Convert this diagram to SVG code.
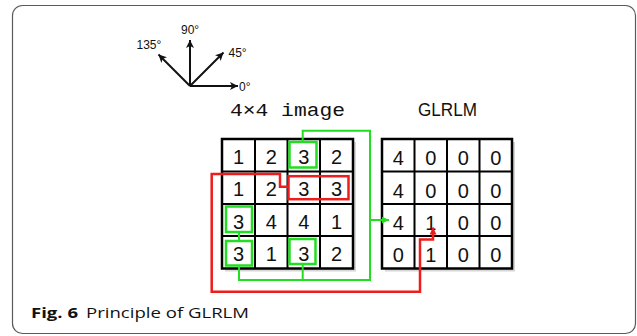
<svg xmlns="http://www.w3.org/2000/svg" width="637" height="336" viewBox="0 0 637 336">
<style>
.frame{fill:#fff;stroke:#5a5a5a;stroke-width:1.2}
.grid{fill:none;stroke:#000;stroke-width:2}
.outer{fill:#fff;stroke:#000;stroke-width:2.5}
.shadow{fill:#d6d6d6}
.num{font-family:"Liberation Sans",Arial,sans-serif;font-size:20px;fill:#111;text-anchor:middle}
.deg{font-family:"Liberation Sans",Arial,sans-serif;font-size:12px;fill:#111}
.title{font-family:"Liberation Mono","DejaVu Sans Mono",monospace;font-size:19px;fill:#111}
.title2{font-family:"Liberation Sans",Arial,sans-serif;font-size:18px;fill:#111}
.gbox{fill:none;stroke:#22dd22;stroke-width:2.5}
.rbox{fill:none;stroke:#ee1c1c;stroke-width:2.5}
.gline{fill:none;stroke:#22dd22;stroke-width:2}
.rline{fill:none;stroke:#ee1c1c;stroke-width:2.5}
.axis{stroke:#111;stroke-width:2;fill:none}
.cap{font-family:"Open Sans","Liberation Sans",sans-serif;font-size:14px;fill:#111}
</style>
<defs>
<marker id="ak" markerUnits="userSpaceOnUse" markerWidth="10" markerHeight="10" refX="8" refY="4" orient="auto">
<path d="M0,0 L8,4 L0,8 L2,4 Z" fill="#111"/>
</marker>
<marker id="ag" markerUnits="userSpaceOnUse" markerWidth="10" markerHeight="10" refX="7" refY="3.5" orient="auto">
<path d="M0,0 L7,3.5 L0,7 Z" fill="#22dd22"/>
</marker>
<marker id="ar" markerUnits="userSpaceOnUse" markerWidth="10" markerHeight="10" refX="7" refY="3.5" orient="auto">
<path d="M0,0 L7,3.5 L0,7 Z" fill="#ee1c1c"/>
</marker>
</defs>

<rect class="frame" x="12.5" y="5.5" width="623" height="328" rx="10"/>

<g id="compass">
<path class="axis" d="M190,86 H238" marker-end="url(#ak)"/>
<path class="axis" d="M190,86 V40" marker-end="url(#ak)"/>
<path class="axis" d="M190,86 L223.5,52.5" marker-end="url(#ak)"/>
<path class="axis" d="M190,86 L158.5,54.5" marker-end="url(#ak)"/>
<text class="deg" x="239" y="90.5">0°</text>
<text class="deg" x="181" y="34">90°</text>
<text class="deg" x="228.5" y="56.5">45°</text>
<text class="deg" x="136.5" y="48.5">135°</text>
</g>

<g id="label-image">
<text class="title" x="230" y="115.5" textLength="115" lengthAdjust="spacingAndGlyphs">4×4 image</text>
</g>
<g id="label-glrlm">
<text class="title2" x="418" y="115.5" textLength="59" lengthAdjust="spacingAndGlyphs">GLRLM</text>
</g>

<g id="image-grid">
<rect class="shadow" x="225" y="142" width="131" height="129.5"/>
<rect class="outer" x="222" y="139" width="131" height="129.5"/>
<path class="grid" d="M255,139 V268.5 M287.5,139 V268.5 M320,139 V268.5 M222,171.5 H353 M222,204 H353 M222,236 H353"/>
<text class="num" x="238.5" y="163.5">1</text><text class="num" x="271.2" y="163.5">2</text><text class="num" x="303.7" y="163.5">3</text><text class="num" x="336.5" y="163.5">2</text>
<text class="num" x="238.5" y="196">1</text><text class="num" x="271.2" y="196">2</text><text class="num" x="303.7" y="196">3</text><text class="num" x="336.5" y="196">3</text>
<text class="num" x="238.5" y="228.5">3</text><text class="num" x="271.2" y="228.5">4</text><text class="num" x="303.7" y="228.5">4</text><text class="num" x="336.5" y="228.5">1</text>
<text class="num" x="238.5" y="260.5">3</text><text class="num" x="271.2" y="260.5">1</text><text class="num" x="303.7" y="260.5">3</text><text class="num" x="336.5" y="260.5">2</text>
<rect class="gbox" x="289.5" y="142" width="27" height="25.5"/>
<rect class="gbox" x="226" y="206.5" width="26" height="25.5"/>
<rect class="gbox" x="226" y="241" width="26" height="24.5"/>
<rect class="gbox" x="289.5" y="239" width="26" height="25"/>
<rect class="rbox" x="288.5" y="176.2" width="60" height="23"/>
</g>

<g id="glrlm-grid">
<rect class="shadow" x="385" y="142" width="130" height="129.5"/>
<rect class="outer" x="382" y="139" width="130" height="129.5"/>
<path class="grid" d="M414.5,139 V268.5 M447,139 V268.5 M479.5,139 V268.5 M382,171.5 H512 M382,204 H512 M382,236 H512"/>
<text class="num" x="398.2" y="165">4</text><text class="num" x="430.7" y="165">0</text><text class="num" x="463.2" y="165">0</text><text class="num" x="495.7" y="165">0</text>
<text class="num" x="398.2" y="197.5">4</text><text class="num" x="430.7" y="197.5">0</text><text class="num" x="463.2" y="197.5">0</text><text class="num" x="495.7" y="197.5">0</text>
<text class="num" x="398.2" y="230">4</text><text class="num" x="430.7" y="230">1</text><text class="num" x="463.2" y="230">0</text><text class="num" x="495.7" y="230">0</text>
<text class="num" x="398.2" y="262">0</text><text class="num" x="430.7" y="262">1</text><text class="num" x="463.2" y="262">0</text><text class="num" x="495.7" y="262">0</text>
</g>

<g id="connectors">
<path class="gline" d="M302.7,141 V130.7 H370 V280 H239 V266.5"/>
<path class="gline" d="M302.7,264.5 V280"/>
<path class="gline" d="M239,232 V241"/>
<path class="gline" d="M370,220 H389" marker-end="url(#ag)"/>
<path class="rline" d="M288.5,186.7 H280 V174 H211.7 V291.7 H420 V239.5 H433 V227.5" marker-end="url(#ar)"/>
</g>

<g id="caption">
<text class="cap" x="31" y="318" font-weight="bold" textLength="47" lengthAdjust="spacingAndGlyphs">Fig. 6</text>
<text class="cap" x="86" y="318" textLength="163" lengthAdjust="spacingAndGlyphs">Principle of GLRLM</text>
</g>
</svg>
